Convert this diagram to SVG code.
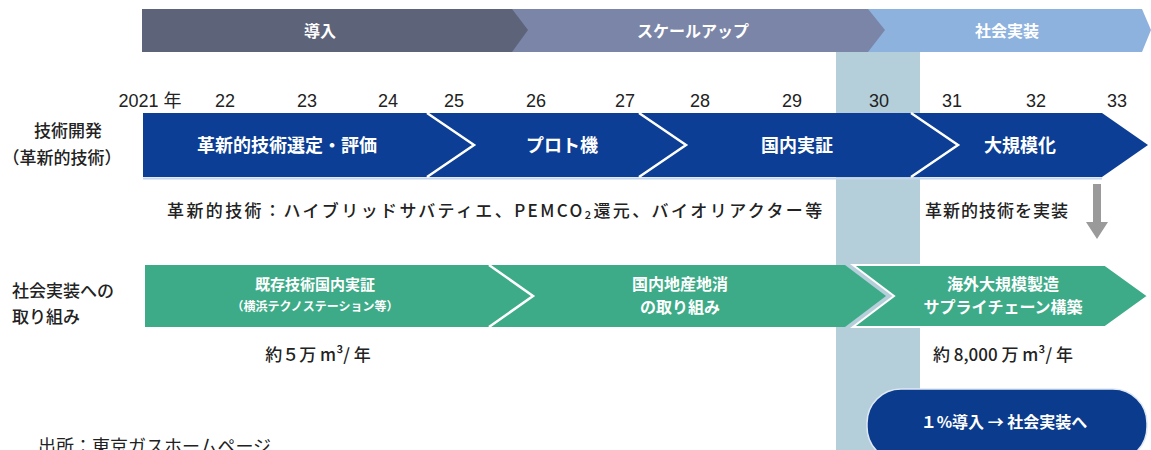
<svg xmlns="http://www.w3.org/2000/svg" width="1151" height="450" viewBox="0 0 1151 450">
<style>
.t{font-family:"Noto Sans CJK JP","Liberation Sans",sans-serif}
.w{fill:#fff;font-weight:bold;text-anchor:middle}
.yr{font-family:"Liberation Sans","Noto Sans CJK JP",sans-serif;font-size:18px;fill:#222;text-anchor:middle}
.lbl{font-family:"Noto Sans CJK JP",sans-serif;font-size:17px;fill:#222;font-weight:500}
.sep{fill:none;stroke:#fff;stroke-width:2.5}
</style>
<rect width="1151" height="450" fill="#fff"/>
<!-- highlight band -->
<rect id="band-2030" x="836" y="52" width="84" height="398" fill="#b4cfd9"/>
<!-- top phase bar -->
<g id="phase-social">
<polygon points="860,9 1142,9 1151,30 1142,52 860,52" fill="#8db2de"/>
<text class="t w" x="1007" y="37" font-size="16">社会実装</text>
</g>
<g id="phase-scaleup">
<polygon points="500,9 868,9 885,30 868,52 500,52" fill="#7b85a7"/>
<text class="t w" x="693" y="37" font-size="16" font-weight="normal">スケールアップ</text>
</g>
<g id="phase-intro">
<polygon points="142,9 512,9 528,30 512,52 142,52" fill="#5d6479"/>
<text class="t w" x="320" y="37" font-size="16">導入</text>
</g>
<!-- years -->
<g id="years">
<text class="yr" x="150" y="107">2021 年</text>
<text class="yr" x="225" y="107">22</text>
<text class="yr" x="307" y="107">23</text>
<text class="yr" x="388" y="107">24</text>
<text class="yr" x="454" y="107">25</text>
<text class="yr" x="536" y="107">26</text>
<text class="yr" x="625" y="107">27</text>
<text class="yr" x="700" y="107">28</text>
<text class="yr" x="792" y="107">29</text>
<text class="yr" x="879" y="107">30</text>
<text class="yr" x="952" y="107">31</text>
<text class="yr" x="1036" y="107">32</text>
<text class="yr" x="1117" y="107">33</text>
</g>
<!-- row labels -->
<g id="label-tech">
<text class="lbl" x="68" y="137" text-anchor="middle">技術開発</text>
<text class="lbl" x="62" y="164" text-anchor="middle">（革新的技術）</text>
</g>
<g id="label-social">
<text class="lbl" x="12" y="297">社会実装への</text>
<text class="lbl" x="12" y="323">取り組み</text>
</g>
<!-- blue row -->
<g id="tech-row">
<line x1="143" y1="178.5" x2="1102" y2="178.5" stroke="#c4d6ea" stroke-width="2"/>
<polygon points="143,113 1102,113 1148,145 1102,177 143,177" fill="#0b3e94"/>
<polyline class="sep" points="427,113 474,145 427,177"/>
<polyline class="sep" points="639,113 686,145 639,177"/>
<polyline class="sep" points="911,113 958,145 911,177"/>
<text class="t w" x="287" y="152" font-size="18">革新的技術選定・評価</text>
<text class="t w" x="562" y="152" font-size="18">プロト機</text>
<text class="t w" x="797" y="152" font-size="18">国内実証</text>
<text class="t w" x="1020" y="152" font-size="18">大規模化</text>
</g>
<g id="tech-note">
<text class="lbl" x="167" y="217" font-size="18" letter-spacing="2.4">革新的技術：ハイブリッドサバティエ、PEMCO<tspan font-size="11" dy="2">2</tspan><tspan dy="-2">還元、バイオリアクター等</tspan></text>
<text class="lbl" x="925" y="217" font-size="18" letter-spacing="1">革新的技術を実装</text>
</g>
<g id="down-arrow">
<polygon points="1093,184 1101,184 1101,222 1108,222 1097,239 1086,222 1093,222" fill="#9a9a9a"/>
</g>
<!-- green row -->
<g id="social-row-1">
<polygon points="145,265 845,265 886,296 845,327 145,327" fill="#3dab87"/>
<polyline class="sep" points="489,265 533,296 489,327"/>
<text class="t w" x="315" y="290" font-size="15">既存技術国内実証</text>
<text class="t w" x="315" y="311" font-size="12">（横浜テクノステーション等）</text>
<text class="t w" x="680" y="290" font-size="16">国内地産地消</text>
<text class="t w" x="680" y="313" font-size="16">の取り組み</text>
</g>
<g id="social-row-2">
<polygon points="853,265 1105,265 1148,296 1105,327 853,327 894,296" fill="#3dab87" stroke="#fff" stroke-width="2"/>
<text class="t w" x="1003" y="290" font-size="16">海外大規模製造</text>
<text class="t w" x="1003" y="313" font-size="16">サプライチェーン構築</text>
</g>
<g id="volumes">
<text class="lbl" x="318" y="361" text-anchor="middle" font-size="17">約５万 m³/ 年</text>
<text class="lbl" x="933" y="361" font-size="17">約 8,000 万 m³/ 年</text>
</g>
<g id="goal">
<rect x="867" y="389" width="280" height="72" rx="34" fill="#0b3b8c" stroke="#dfe9f5" stroke-width="1.5"/>
<text class="t w" x="1004" y="428" font-size="16">１%導入 → 社会実装へ</text>
</g>
<text x="38" y="453" font-family="'Liberation Serif','Noto Sans CJK JP',serif" font-size="18" fill="#222">出所：東京ガスホームページ</text>
</svg>
